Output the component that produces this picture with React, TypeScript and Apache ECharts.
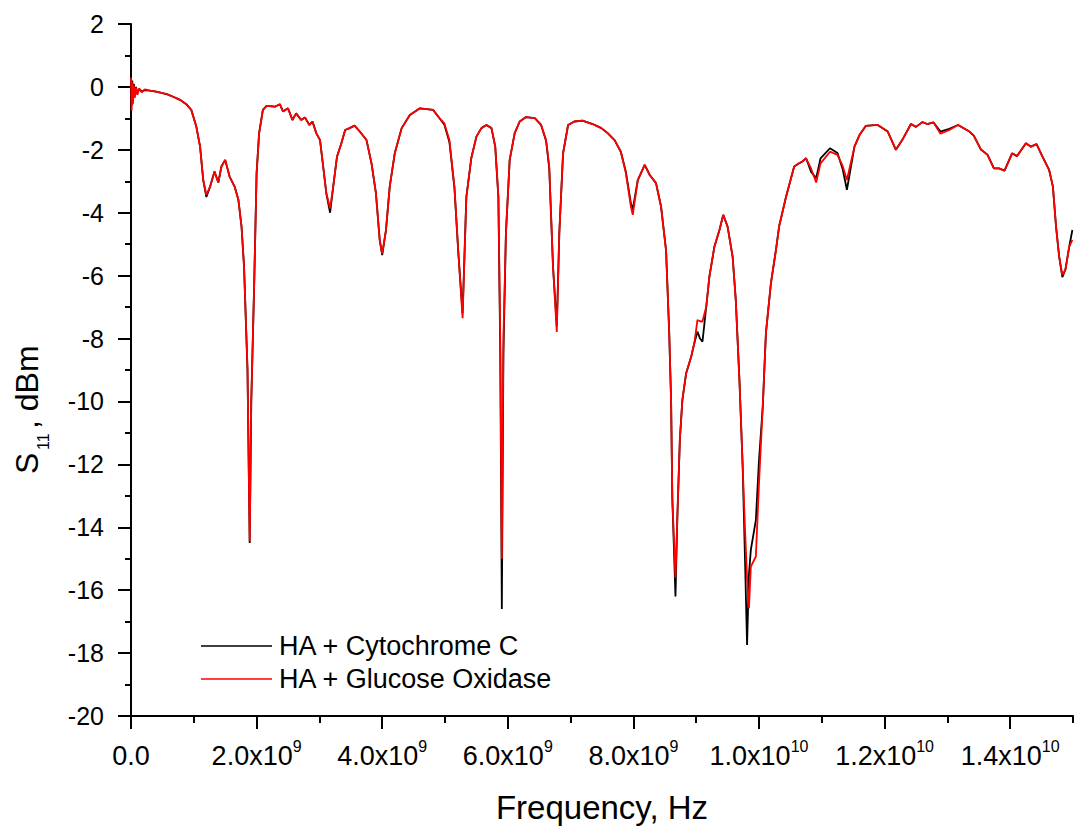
import React, { useEffect, useRef } from "react";
import * as echarts from "echarts";

// Frequency in GHz (converted to Hz when building the series)
const freqGHz = [
  0.0, 0.01, 0.02, 0.03, 0.045, 0.06, 0.08, 0.1, 0.13, 0.17, 0.22, 0.3, 0.4, 0.5, 0.57, 0.68, 0.78, 0.88, 0.96,
  1.04, 1.1, 1.15, 1.2, 1.26, 1.33, 1.39, 1.44, 1.5, 1.57, 1.65, 1.71, 1.76, 1.8, 1.855, 1.89, 1.915, 1.96,
  2.0, 2.04, 2.1, 2.16, 2.29, 2.37, 2.42, 2.5, 2.57, 2.63, 2.71, 2.77, 2.84, 2.89, 2.95,
  3.01, 3.06, 3.11, 3.17, 3.22, 3.28, 3.35, 3.41, 3.48, 3.56, 3.64, 3.75, 3.83, 3.9, 3.96,
  4.0, 4.06, 4.12, 4.2, 4.31, 4.44, 4.6, 4.81, 4.91, 4.99,
  5.07, 5.15, 5.21, 5.28, 5.34, 5.42, 5.5, 5.58, 5.66, 5.74, 5.8, 5.85, 5.88, 5.905, 5.93, 5.97,
  6.03, 6.11, 6.19, 6.29, 6.43, 6.53, 6.61, 6.66, 6.72, 6.78, 6.82, 6.88, 6.96,
  7.06, 7.19, 7.35, 7.49, 7.59, 7.7, 7.8, 7.88, 7.96, 7.99,
  8.07, 8.18, 8.26, 8.36, 8.44, 8.52, 8.57, 8.6, 8.62, 8.67, 8.7, 8.74, 8.78, 8.84, 8.92, 8.97,
  9.02, 9.06, 9.1, 9.16, 9.21, 9.29, 9.37, 9.43, 9.5, 9.58, 9.63, 9.69, 9.74, 9.78, 9.81, 9.84, 9.87, 9.95,
  10.0, 10.06, 10.11, 10.19, 10.27, 10.32, 10.43, 10.56, 10.64, 10.69, 10.75, 10.83, 10.91, 10.98,
  11.13, 11.25, 11.33, 11.4, 11.52, 11.6, 11.7, 11.89,
  12.05, 12.18, 12.28, 12.42, 12.5, 12.6, 12.68, 12.78, 12.89,
  13.03, 13.17, 13.35, 13.42, 13.53, 13.64, 13.74, 13.82, 13.91,
  14.03, 14.11, 14.25, 14.33, 14.42, 14.51, 14.62, 14.68, 14.73, 14.78, 14.83, 14.88, 14.94, 14.99,
];

// S11 (dBm) — HA + Glucose Oxidase (red)
const glucoseOxidase = [
  0.3, -0.75, 0.15, -0.55, 0.05, -0.35, -0.02, -0.25, -0.05, -0.17, -0.08, -0.12, -0.15, -0.2, -0.23, -0.32, -0.41, -0.55, -0.73,
  -1.26, -1.9, -2.96, -3.43, -3.17, -2.69, -3.04, -2.53, -2.32, -2.85, -3.17, -3.59, -4.44, -5.71, -9.0, -14.45, -10.0, -6.4,
  -2.74, -1.47, -0.73, -0.6, -0.63, -0.55, -0.78, -0.68, -1.05, -0.84, -1.05, -0.97, -1.21, -1.1, -1.47,
  -1.69, -2.53, -3.38, -3.86, -3.17, -2.22, -1.79, -1.37, -1.31, -1.23, -1.41, -1.69, -2.43, -3.38, -4.86,
  -5.31, -4.55, -3.17, -2.11, -1.31, -0.89, -0.68, -0.73, -0.99, -1.16,
  -1.69, -3.17, -5.2, -7.35, -3.5, -2.25, -1.58, -1.31, -1.21, -1.31, -1.9, -3.5, -8.0, -15.0, -8.0, -4.66,
  -2.32, -1.47, -1.1, -0.96, -0.99, -1.21, -1.69, -2.53, -5.71, -7.79, -4.66, -2.11, -1.21,
  -1.1, -1.07, -1.18, -1.31, -1.47, -1.69, -2.06, -2.74, -3.8, -4.07,
  -2.96, -2.48, -2.8, -3.06, -3.8, -5.2, -7.8, -9.95, -13.1, -15.6, -13.66, -11.2, -9.95, -9.1, -8.58, -8.15,
  -7.41, -7.45, -7.46, -6.99, -6.03, -5.08, -4.55, -4.07, -4.44, -5.4, -6.77, -9.4, -12.07, -14.2, -15.6, -16.57, -15.25, -14.93,
  -12.6, -10.16, -7.83, -6.24, -5.18, -4.44, -3.5, -2.53, -2.43, -2.37, -2.27, -2.6, -3.04, -2.43,
  -2.06, -2.16, -2.5, -2.96, -1.9, -1.53, -1.24, -1.21,
  -1.42, -2.0, -1.69, -1.18, -1.27, -1.12, -1.18, -1.13, -1.49,
  -1.37, -1.21, -1.42, -1.55, -1.98, -2.16, -2.59, -2.59, -2.66,
  -2.11, -2.2, -1.79, -1.9, -1.82, -2.2, -2.64, -3.17, -4.44, -5.4, -5.98, -5.8, -5.08, -4.86,
];

// S11 (dBm) — HA + Cytochrome C (black)
const cytochromeC = [
  0.35, -0.6, 0.2, -0.5, 0.1, -0.3, 0.0, -0.22, -0.06, -0.15, -0.1, -0.12, -0.15, -0.2, -0.23, -0.32, -0.41, -0.55, -0.73,
  -1.26, -1.9, -2.96, -3.5, -3.17, -2.69, -3.04, -2.53, -2.32, -2.85, -3.17, -3.59, -4.44, -5.71, -9.0, -14.5, -10.0, -6.4,
  -2.74, -1.47, -0.73, -0.6, -0.63, -0.55, -0.78, -0.68, -1.05, -0.84, -1.05, -0.97, -1.21, -1.1, -1.47,
  -1.69, -2.53, -3.38, -4.0, -3.17, -2.22, -1.79, -1.37, -1.31, -1.23, -1.41, -1.69, -2.43, -3.38, -4.86,
  -5.35, -4.55, -3.17, -2.11, -1.31, -0.89, -0.68, -0.73, -0.99, -1.2,
  -1.75, -3.2, -5.2, -7.2, -3.5, -2.25, -1.58, -1.31, -1.21, -1.31, -1.9, -3.5, -8.5, -16.6, -8.5, -4.66,
  -2.32, -1.47, -1.1, -0.96, -0.99, -1.21, -1.72, -2.6, -5.71, -7.6, -4.66, -2.11, -1.21,
  -1.1, -1.07, -1.18, -1.31, -1.47, -1.69, -2.06, -2.7, -3.7, -3.9,
  -2.96, -2.48, -2.8, -3.06, -3.8, -5.2, -7.8, -9.95, -13.1, -16.2, -13.66, -11.2, -9.95, -9.1, -8.58, -8.15,
  -7.78, -8.0, -8.1, -6.99, -6.03, -5.08, -4.55, -4.07, -4.44, -5.4, -6.77, -9.4, -12.07, -15.25, -17.74, -15.5, -14.72, -13.77,
  -11.86, -10.16, -7.83, -6.24, -5.18, -4.44, -3.5, -2.53, -2.43, -2.37, -2.27, -2.7, -2.9, -2.27,
  -1.95, -2.1, -2.6, -3.27, -1.9, -1.53, -1.24, -1.21,
  -1.42, -2.0, -1.69, -1.18, -1.27, -1.12, -1.18, -1.13, -1.42,
  -1.33, -1.21, -1.42, -1.55, -1.98, -2.16, -2.59, -2.59, -2.66,
  -2.11, -2.2, -1.79, -1.9, -1.82, -2.2, -2.64, -3.17, -4.44, -5.4, -6.05, -5.8, -5.08, -4.55,
];

const seriesNames = ["HA + Cytochrome C", "HA + Glucose Oxidase"];
const seriesColors = ["#000000", "#ff0000"];
const xMajorTicks = [0, 2e9, 4e9, 6e9, 8e9, 1e10, 1.2e10, 1.4e10];
const xMinorTicks = [1e9, 3e9, 5e9, 7e9, 9e9, 1.1e10, 1.3e10, 1.5e10];

const FONT = "Arial, 'Liberation Sans', sans-serif";

function fmtX(v: number): string {
  if (v === 0) return "{m|0.0}";
  const exp = Math.floor(Math.log10(v) + 1e-9);
  const mant = v / Math.pow(10, exp);
  return `{m|${mant.toFixed(1)}x10}{s|${exp}}`;
}

export default function App() {
  const ref = useRef<HTMLDivElement>(null);
  useEffect(() => {
    document.body.style.margin = "0";
    if (!ref.current) return;
    const chart = echarts.init(ref.current, undefined, { renderer: "svg" });
    const toData = (vals: number[]) => freqGHz.map((f, i) => [f * 1e9, vals[i]]);
    chart.setOption({
      animation: false,
      backgroundColor: "#fff",
      grid: { left: 131, right: 2, top: 24, bottom: 118, containLabel: false, outerBoundsMode: "none" },
      legend: {
        orient: "vertical",
        left: 196,
        top: 625,
        itemWidth: 71,
        itemHeight: 1.4,
        itemGap: 1,
        icon: "rect",
        data: seriesNames.map((n) => ({ name: n, icon: "rect" })),
        textStyle: { fontFamily: FONT, fontSize: 27, color: "#000", lineHeight: 32, padding: [0, 0, 0, 2] },
      },
      xAxis: [
        {
          type: "value",
          min: 0,
          max: 1.5e10,
          interval: 1e9,
          position: "bottom",
          axisLine: { onZero: false, lineStyle: { color: "#000", width: 2 } },
          axisTick: { show: true, length: 13, lineStyle: { color: "#000", width: 2 }, customValues: xMajorTicks },
          axisLabel: {
            customValues: xMajorTicks,
            margin: 22,
            formatter: (v: number) => (Math.abs(v % 2e9) < 1 ? fmtX(v) : ""),
            rich: {
              m: { fontFamily: FONT, fontSize: 27, color: "#000", lineHeight: 31, verticalAlign: "bottom" },
              s: { fontFamily: FONT, fontSize: 16, color: "#000", lineHeight: 14, verticalAlign: "top" },
            },
          },
          splitLine: { show: false },
        },
        {
          type: "value",
          min: 0,
          max: 1.5e10,
          interval: 1e9,
          position: "bottom",
          axisLine: { show: false, onZero: false },
          axisTick: { show: true, length: 7, lineStyle: { color: "#000", width: 2 }, customValues: xMinorTicks },
          axisLabel: { show: false },
          splitLine: { show: false },
        },
      ],
      yAxis: {
        type: "value",
        min: -20,
        max: 2,
        interval: 2,
        axisLine: { show: true, onZero: false, lineStyle: { color: "#000", width: 2 } },
        axisTick: { show: true, length: 13, lineStyle: { color: "#000", width: 2 } },
        minorTick: { show: true, splitNumber: 2, length: 6, lineStyle: { color: "#000", width: 2 } },
        axisLabel: { fontFamily: FONT, fontSize: 25, color: "#000", margin: 27 },
        splitLine: { show: false },
        minorSplitLine: { show: false },
      },
      graphic: [
        {
          type: "text",
          x: 602,
          y: 807,
          style: {
            text: "Frequency, Hz",
            fontFamily: FONT,
            fontSize: 33,
            fill: "#000",
            align: "center",
            verticalAlign: "middle",
          },
        },
        {
          type: "group",
          x: 0,
          y: 474,
          rotation: Math.PI / 2,
          children: [
            {
              type: "text",
              x: 0,
              y: 27,
              style: { text: "S", fontFamily: FONT, fontSize: 32, fill: "#000", align: "left", verticalAlign: "middle" },
            },
            {
              type: "text",
              x: 24,
              y: 43,
              style: { text: "11", fontFamily: FONT, fontSize: 16, fill: "#000", align: "left", verticalAlign: "middle" },
            },
            {
              type: "text",
              x: 45,
              y: 27,
              style: { text: ", dBm", fontFamily: FONT, fontSize: 32, fill: "#000", align: "left", verticalAlign: "middle" },
            },
          ],
        },
      ],
      series: seriesNames.map((name, i) => ({
        name,
        type: "line",
        data: toData(i === 0 ? cytochromeC : glucoseOxidase),
        symbol: "none",
        showSymbol: false,
        color: seriesColors[i],
        lineStyle: { width: 1.8, color: seriesColors[i] },
        z: 2 + i,
      })),
    });
    return () => chart.dispose();
  }, []);
  return <div ref={ref} style={{ width: 1075, height: 834, position: "absolute", left: 0, top: 0 }} />;
}
